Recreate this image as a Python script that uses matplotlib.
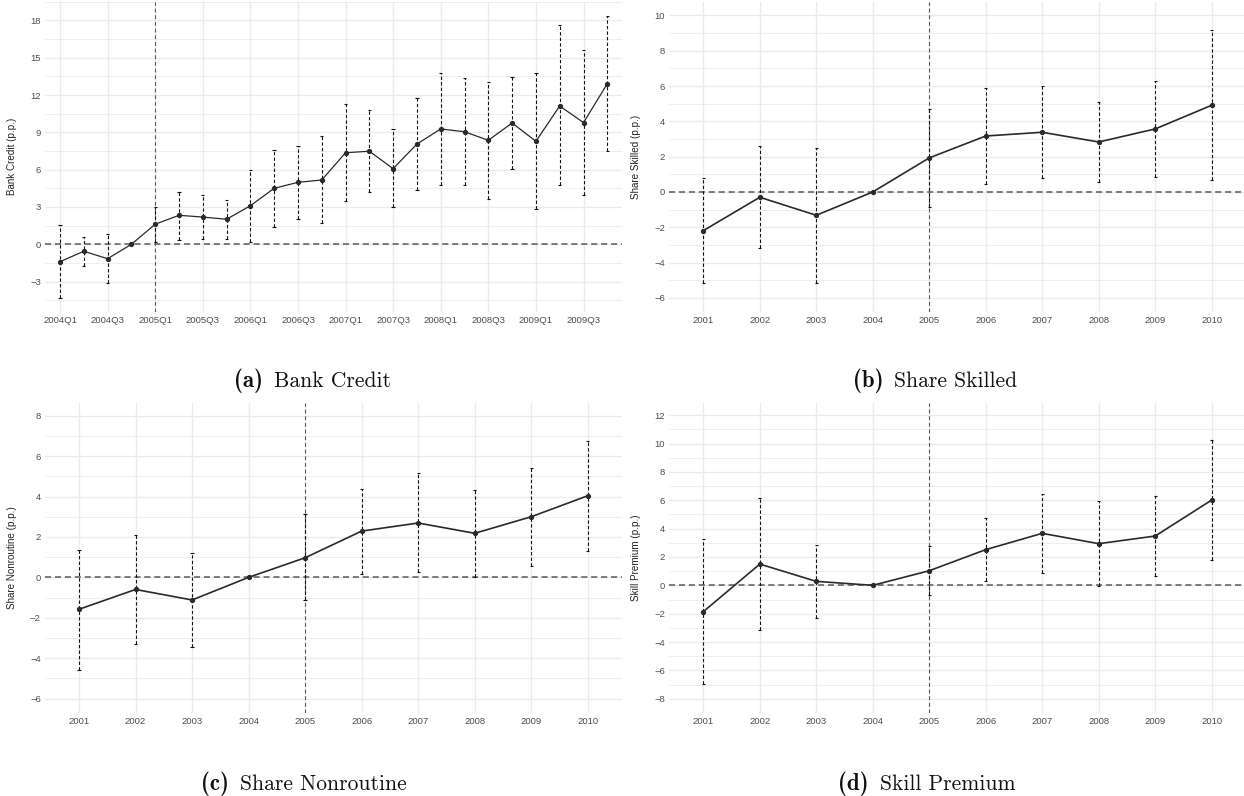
import numpy as np
import matplotlib
matplotlib.use("Agg")
import matplotlib.pyplot as plt

# ---- data ----
quarters = ["2004Q1", "2004Q2", "2004Q3", "2004Q4", "2005Q1", "2005Q2", "2005Q3", "2005Q4",
            "2006Q1", "2006Q2", "2006Q3", "2006Q4", "2007Q1", "2007Q2", "2007Q3", "2007Q4",
            "2008Q1", "2008Q2", "2008Q3", "2008Q4", "2009Q1", "2009Q2", "2009Q3", "2009Q4"]
bank_est = [-1.40, -0.56, -1.16, 0.0, 1.61, 2.33, 2.19, 2.01, 3.10, 4.50, 4.98, 5.17,
            7.36, 7.48, 6.08, 8.06, 9.27, 9.05, 8.36, 9.75, 8.28, 11.12, 9.78, 12.91]
bank_hi = [1.55, 0.61, 0.80, np.nan, 2.97, 4.23, 3.96, 3.56, 6.00, 7.60, 7.93, 8.71,
           11.25, 10.80, 9.24, 11.79, 13.75, 13.34, 13.07, 13.47, 13.75, 17.60, 15.62, 18.38]
bank_lo = [-4.29, -1.74, -3.14, np.nan, 0.20, 0.35, 0.45, 0.45, 0.16, 1.37, 2.03, 1.69,
           3.48, 4.18, 2.97, 4.36, 4.77, 4.77, 3.67, 6.03, 2.81, 4.74, 3.94, 7.48]

years = [2001, 2002, 2003, 2004, 2005, 2006, 2007, 2008, 2009, 2010]

skilled_est = [-2.19, -0.30, -1.32, 0.0, 1.93, 3.17, 3.38, 2.83, 3.57, 4.91]
skilled_hi = [0.78, 2.60, 2.51, np.nan, 4.68, 5.91, 6.00, 5.08, 6.30, 9.16]
skilled_lo = [-5.17, -3.19, -5.13, np.nan, -0.83, 0.44, 0.78, 0.58, 0.85, 0.68]

nonroutine_est = [-1.58, -0.60, -1.12, 0.0, 0.97, 2.29, 2.69, 2.18, 3.00, 4.04]
nonroutine_hi = [1.37, 2.11, 1.22, np.nan, 3.12, 4.39, 5.15, 4.31, 5.43, 6.76]
nonroutine_lo = [-4.59, -3.32, -3.47, np.nan, -1.14, 0.18, 0.25, 0.03, 0.57, 1.32]

premium_est = [-1.86, 1.50, 0.28, 0.0, 1.03, 2.52, 3.67, 2.94, 3.48, 6.02]
premium_hi = [3.27, 6.16, 2.87, np.nan, 2.77, 4.73, 6.47, 5.97, 6.28, 10.23]
premium_lo = [-6.99, -3.18, -2.31, np.nan, -0.68, 0.28, 0.85, -0.05, 0.66, 1.76]

W, H = 1244, 796
fig = plt.figure(figsize=(W / 100, H / 100), dpi=100)
fig.patch.set_facecolor("white")

TICK_FONT = "Liberation Sans"
GRID = "#EBEBEB"


def panel_axes(left, top, right, bottom):
    return fig.add_axes([left / W, 1 - bottom / H, (right - left) / W, (bottom - top) / H])


def draw_panel(ax, x, est, lo, hi, xticks, xticklabels, yticks, ystep, ylim, xlim,
               event_x, ylabel, lw, capw):
    ax.set_xlim(*xlim)
    ax.set_ylim(*ylim)
    for s in ax.spines.values():
        s.set_visible(False)
    ax.set_facecolor("white")

    # grid: major + minor horizontal, major vertical
    minor = np.arange(yticks[0] - ystep / 2, ylim[1], ystep)
    for m in minor:
        if ylim[0] < m < ylim[1]:
            ax.axhline(m, color=GRID, lw=0.6, zorder=0)
    for t in yticks:
        ax.axhline(t, color=GRID, lw=1.0, zorder=0)
    for t in xticks:
        ax.axvline(t, color=GRID, lw=1.0, zorder=0)

    ax.axhline(0, color="#5a5a5a", lw=1.1, ls=(0, (4, 2.5)), zorder=1)
    ax.axvline(event_x, color="#5a5a5a", lw=0.8, ls=(0, (3.5, 2.5)), zorder=1)

    x = np.asarray(x, dtype=float)
    lo = np.asarray(lo, dtype=float)
    hi = np.asarray(hi, dtype=float)
    ax.vlines(x, lo, hi, colors="#111111", lw=0.8, linestyles=(0, (3, 2)), zorder=2)
    ax.hlines(hi, x - capw, x + capw, colors="#111111", lw=0.8, zorder=2)
    ax.hlines(lo, x - capw, x + capw, colors="#111111", lw=0.8, zorder=2)

    ax.plot(x, est, color="#2a2a2a", lw=lw, zorder=3)
    ax.plot(x, est, "o", color="#2a2a2a", ms=2.8, zorder=4)

    ax.set_xticks(xticks)
    ax.set_xticklabels(xticklabels, fontfamily=TICK_FONT, fontsize=6.8, color="#4D4D4D")
    ax.set_yticks(yticks)
    ax.set_yticklabels([str(t).replace("-", "\u2212") for t in yticks],
                       fontfamily=TICK_FONT, fontsize=6.8, color="#4D4D4D")
    ax.tick_params(length=0, pad=3)
    ax.set_ylabel(ylabel, fontfamily=TICK_FONT, fontsize=7.1, color="#222222")
    ax.yaxis.set_label_coords(-28 / (ax.get_position().width * W), 0.5)


# (a) Bank Credit
ax_a = panel_axes(45, 1.6, 621.7, 311.7)
qx = np.arange(len(quarters))
draw_panel(ax_a, qx, bank_est, bank_lo, bank_hi,
           qx[::2], quarters[::2], [-3, 0, 3, 6, 9, 12, 15, 18], 3,
           (-5.42, 19.51), (-0.63, 23.605), quarters.index("2005Q1"),
           "Bank Credit (p.p.)", 0.9, 0.07)

# (b) Share Skilled
ax_b = panel_axes(669.3, 1.6, 1244, 311.7)
draw_panel(ax_b, years, skilled_est, skilled_lo, skilled_hi,
           years, [str(y) for y in years], [-6, -4, -2, 0, 2, 4, 6, 8, 10], 2,
           (-6.78, 10.78), (2000.398, 2010.572), 2005,
           "Share Skilled (p.p.)", 1.2, 0.03)

# (c) Share Nonroutine
ax_c = panel_axes(45, 403, 621.7, 712.7)
draw_panel(ax_c, years, nonroutine_est, nonroutine_lo, nonroutine_hi,
           years, [str(y) for y in years], [-6, -4, -2, 0, 2, 4, 6, 8], 2,
           (-6.70, 8.63), (2000.398, 2010.60), 2005,
           "Share Nonroutine (p.p.)", 1.2, 0.03)

# (d) Skill Premium
ax_d = panel_axes(669.3, 403, 1244, 712.7)
draw_panel(ax_d, years, premium_est, premium_lo, premium_hi,
           years, [str(y) for y in years], [-8, -6, -4, -2, 0, 2, 4, 6, 8, 10, 12], 2,
           (-8.99, 12.87), (2000.398, 2010.572), 2005,
           "Skill Premium (p.p.)", 1.2, 0.03)

# captions: bold tag + roman name (Computer Modern, like the LaTeX source)
captions = [(232, 387, "(a)", "Bank Credit"), (852, 387, "(b)", "Share Skilled"),
            (198, 790, "(c)", "Share Nonroutine"), (837, 790, "(d)", "Skill Premium")]
for cx, cy, tag, name in captions:
    fig.text((cx + 31.5) / W, 1 - cy / H, tag, fontfamily="cmb10", fontsize=16.5,
             ha="right", va="baseline", color="#111111")
    fig.text((cx + 42.5) / W, 1 - cy / H, name, fontfamily="cmr10", fontsize=15.5,
             ha="left", va="baseline", color="#111111")

fig.savefig("out.png", dpi=100, facecolor="white")
